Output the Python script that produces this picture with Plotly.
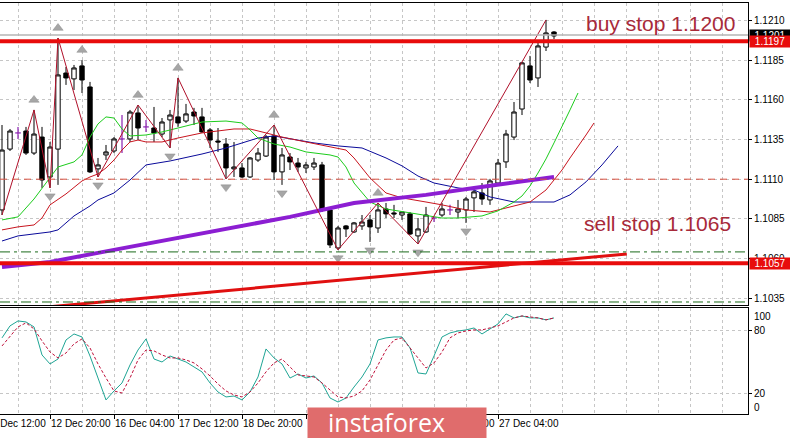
import plotly.graph_objects as go

# ---------------- data (EURUSD H4) ----------------
bars = list(range(70))
opens = [1.10906, 1.1129, 1.11392, 1.11404, 1.11265, 1.11366, 1.11114, 1.1129, 1.1177, 1.11733,
         1.11815, 1.11682, 1.11165, 1.11253, 1.11278, 1.11354, 1.11354, 1.11518, 1.1143, 1.11423,
         1.11385, 1.11474, 1.11493, 1.11467, 1.11524, 1.11493, 1.11411, 1.11341, 1.11322, 1.11165,
         1.11171, 1.11114, 1.11221, 1.11246, 1.11373, 1.11146, 1.1124, 1.11202, 1.11171, 1.11177,
         1.1119, 1.10906, 1.10666, 1.10805, 1.10767, 1.10805, 1.10843, 1.10792, 1.10912, 1.10887,
         1.10874, 1.10881, 1.10742, 1.10767, 1.10855, 1.10874, 1.10906, 1.10893, 1.10906, 1.10982,
         1.11013, 1.10969, 1.11076, 1.11209, 1.11366, 1.11543, 1.11815, 1.11739, 1.11934, 1.12029]
highs = [1.11442, 1.11417, 1.1143, 1.1143, 1.11537, 1.1143, 1.11335, 1.11991, 1.11808, 1.11821,
         1.11852, 1.11714, 1.11234, 1.11316, 1.11366, 1.11505, 1.11537, 1.11568, 1.11474, 1.11556,
         1.11486, 1.11537, 1.11739, 1.11575, 1.1155, 1.1155, 1.11423, 1.11423, 1.1136, 1.11335,
         1.11202, 1.1124, 1.11297, 1.11379, 1.11442, 1.11297, 1.11265, 1.11234, 1.11209, 1.11234,
         1.11209, 1.10919, 1.10805, 1.10811, 1.1083, 1.10874, 1.10874, 1.1095, 1.1095, 1.10938,
         1.10893, 1.10893, 1.10855, 1.10925, 1.10862, 1.1095, 1.10938, 1.10969, 1.10988, 1.11051,
         1.11076, 1.11102, 1.11228, 1.11411, 1.11587, 1.1184, 1.11878, 1.1196, 1.12105, 1.12035]
lows = [1.10874, 1.11278, 1.11354, 1.11253, 1.11253, 1.11045, 1.11045, 1.11064, 1.11695, 1.11663,
        1.11644, 1.11139, 1.11114, 1.11221, 1.11265, 1.11265, 1.11335, 1.11347, 1.11398, 1.11335,
        1.11366, 1.11297, 1.1143, 1.11455, 1.11442, 1.11392, 1.11297, 1.11272, 1.11102, 1.11114,
        1.11108, 1.11108, 1.11209, 1.1124, 1.11095, 1.11064, 1.11158, 1.11146, 1.11139, 1.11158,
        1.10893, 1.10666, 1.10654, 1.10735, 1.10761, 1.1078, 1.10704, 1.10761, 1.10855, 1.10855,
        1.10843, 1.10748, 1.10691, 1.10761, 1.1083, 1.10862, 1.10874, 1.10855, 1.10824, 1.10893,
        1.10938, 1.10938, 1.11064, 1.11171, 1.11347, 1.11505, 1.11707, 1.11682, 1.11909, 1.11985]
closes = [1.11284, 1.11404, 1.11392, 1.11265, 1.11385, 1.11095, 1.11303, 1.11758, 1.11739, 1.11802,
          1.11726, 1.11146, 1.1119, 1.11272, 1.11354, 1.11354, 1.11524, 1.11423, 1.1143, 1.11392,
          1.11461, 1.11505, 1.11455, 1.11512, 1.11499, 1.11398, 1.11347, 1.11335, 1.11171, 1.11177,
          1.11114, 1.11234, 1.11265, 1.11366, 1.11146, 1.11253, 1.11209, 1.11177, 1.1119, 1.11202,
          1.10906, 1.10685, 1.10792, 1.10786, 1.10824, 1.1083, 1.10799, 1.10906, 1.10881, 1.10881,
          1.10893, 1.10754, 1.10786, 1.10874, 1.10855, 1.10912, 1.10906, 1.10912, 1.10975, 1.1102,
          1.10975, 1.11089, 1.11202, 1.11385, 1.11524, 1.11834, 1.11726, 1.11941, 1.12023, 1.12004]

# Alligator lines (bar index, price)
lips_k = [0, 2, 4, 6, 7, 9, 10, 11, 12, 13, 14, 15, 16, 18, 20, 22, 25, 28, 30, 31, 32, 34, 36, 38,
          41, 42, 43, 44, 46, 48, 51, 55, 57, 60, 62, 64, 65, 66, 67, 68, 69, 70, 71, 72]
lips_p = [1.10843, 1.10862, 1.10975, 1.11114, 1.11177, 1.11209, 1.11253, 1.11366, 1.11449, 1.11493,
          1.11486, 1.11417, 1.11373, 1.11379, 1.11398, 1.11423, 1.11461, 1.11467, 1.11455, 1.11411,
          1.1136, 1.11322, 1.11303, 1.11272, 1.11253, 1.1124, 1.11177, 1.11076, 1.10956, 1.10912,
          1.10887, 1.10855, 1.10855, 1.10868, 1.109, 1.10956, 1.10994, 1.11057, 1.11139, 1.11228,
          1.11329, 1.1143, 1.11537, 1.11644]
teeth_k = [0, 2, 4, 5, 6, 8, 10, 11, 12, 13, 14, 15, 16, 17, 18, 20, 22, 25, 29, 31, 33, 35, 38, 40,
           43, 44, 45, 46, 48, 50, 53, 55, 58, 61, 64, 66, 68, 69, 70, 71, 72, 73, 74]
teeth_p = [1.1078, 1.10799, 1.10811, 1.10855, 1.10938, 1.11007, 1.11089, 1.11114, 1.11133, 1.11171,
           1.11221, 1.11284, 1.11335, 1.11347, 1.11335, 1.11335, 1.1136, 1.11392, 1.11417, 1.11417,
           1.11392, 1.11366, 1.11335, 1.11316, 1.11284, 1.11234, 1.11171, 1.11108, 1.11013, 1.10982,
           1.10956, 1.10938, 1.10906, 1.10893, 1.10931, 1.10956, 1.11032, 1.11095, 1.11158, 1.11234,
           1.11303, 1.11379, 1.11455]
jaw_k = [0, 2, 6, 7, 9, 11, 12, 14, 16, 18, 21, 25, 28, 30, 32, 34, 36, 39, 42, 45, 48, 50, 52, 54,
         57, 59, 61, 64, 66, 69, 71, 73, 75, 77]
jaw_p = [1.1071, 1.10742, 1.10767, 1.1078, 1.10868, 1.10931, 1.10969, 1.11013, 1.11095, 1.1119,
         1.11215, 1.11259, 1.11297, 1.11329, 1.1136, 1.11373, 1.11354, 1.11329, 1.1131, 1.11297,
         1.11234, 1.11184, 1.1112, 1.11076, 1.11045, 1.11032, 1.10988, 1.10956, 1.10956, 1.10956,
         1.11001, 1.11083, 1.1119, 1.1131]
# long moving average (purple)
ma_k = [0, 6, 12, 20, 29, 36, 44, 53, 59, 69]
ma_p = [1.10546, 1.10578, 1.10635, 1.1071, 1.10799, 1.10862, 1.1095, 1.11001, 1.11045, 1.11114]

# ZigZag pivots: bar index and type (H = high, L = low)
zz_idx = [0, 4, 6, 7, 12, 17, 21, 22, 28, 34, 42, 47, 52, 68]
zz_type = ["L", "H", "L", "H", "L", "H", "L", "H", "L", "H", "L", "H", "L", "H"]

# Fractals
frac_up = [4, 7, 10, 17, 22, 34, 47]
frac_dn = [6, 12, 21, 28, 35, 42, 46, 52, 58]

# Levels
current_price = 1.1201
buy_level = 1.1197
sell_level = 1.1057
mid_level = 1.1110
green_levels = [1.10641, 1.10325]
trend_k = [5.75, 78.1]
trend_p = [1.10294, 1.10628]

price_ticks = [1.1035, 1.1060, 1.1085, 1.1110, 1.1135, 1.1160, 1.1185, 1.1210]

# Stochastic
stoch_main = [73.3, 84.9, 89.7, 88.7, 83.9, 56.8, 48.1, 52.9, 71.3, 77.1,
              74.2, 55.8, 34.5, 13.3, 22.0, 29.7, 47.1, 61.6, 72.3, 52.9,
              50.0, 55.8, 52.9, 50.0, 45.2, 40.4, 29.7, 21.0, 16.2, 17.1,
              13.3, 21.0, 35.5, 62.6, 53.9, 48.1, 34.5, 38.4, 34.5, 36.5,
              29.7, 15.2, 11.3, 15.2, 25.8, 35.5, 48.1, 71.3, 73.3, 74.2,
              74.2, 63.6, 39.4, 38.4, 55.8, 74.2, 78.1, 80.0, 81.0, 82.9,
              77.1, 82.0, 86.8, 96.5, 92.6, 94.5, 92.6, 92.6, 90.7, 92.6]
stoch_signal = [65.5, 74.2, 83.9, 87.8, 82.0, 70.4, 59.7, 53.9, 58.7, 67.5,
                72.3, 63.6, 48.1, 34.5, 22.0, 20.0, 34.5, 52.0, 61.6, 60.7,
                56.8, 53.9, 53.9, 52.0, 49.1, 43.3, 36.5, 28.7, 22.0, 18.1,
                16.2, 21.0, 29.7, 40.4, 49.1, 52.9, 45.2, 37.5, 36.5, 35.5,
                29.7, 22.9, 16.2, 15.2, 17.1, 22.0, 32.6, 47.1, 61.6, 71.3,
                73.3, 63.6, 53.9, 44.2, 49.1, 59.7, 73.3, 78.1, 80.0, 81.0,
                81.0, 82.9, 84.9, 88.7, 92.6, 94.5, 93.6, 92.6, 90.7, 92.6]

# time labels (those hidden under the watermark in the reference are not drawn)
time_k = [-2, 6, 14, 22, 30, 54, 62]
time_labels = ["11 Dec 12:00", "12 Dec 20:00", "16 Dec 04:00", "17 Dec 12:00", "18 Dec 20:00",
               "24 Dec 20:00", "27 Dec 04:00"]
tick_k = [-2, 6, 14, 22, 30, 38, 46, 54, 62]

# ---------------- figure ----------------
W, H = 790, 438
PLOT_W = 748
XMIN, XMAX = -0.25, 93.25
FONT = "Liberation Sans"
GRID = "#c6c6c6"


def px_x(px):
    return px / PLOT_W


def px_y(py):
    return 1 - py / H


def k_to_paper(k):
    return (k - XMIN) / (XMAX - XMIN)


fig = go.Figure()

normal = [i for i in bars if opens[i] != closes[i]]
doji = [i for i in bars if opens[i] == closes[i]]

fig.add_trace(go.Candlestick(
    x=normal, open=[opens[i] for i in normal], high=[highs[i] for i in normal],
    low=[lows[i] for i in normal], close=[closes[i] for i in normal],
    increasing=dict(line=dict(color="black", width=1), fillcolor="white"),
    decreasing=dict(line=dict(color="black", width=1), fillcolor="black"),
    whiskerwidth=0, hoverinfo="skip", showlegend=False, xaxis="x", yaxis="y"))

# doji crosses (purple)
dx, dy = [], []
for i in doji:
    dx += [i, i, None, i - 0.35, i + 0.35, None]
    dy += [highs[i], lows[i], None, opens[i], opens[i], None]
fig.add_trace(go.Scatter(x=dx, y=dy, mode="lines", line=dict(color="#8a1fb0", width=1.2),
                         hoverinfo="skip", showlegend=False))

fig.add_trace(go.Scatter(x=jaw_k, y=jaw_p, mode="lines", line=dict(color="#0a0a9a", width=1),
                         hoverinfo="skip", showlegend=False))
fig.add_trace(go.Scatter(x=teeth_k, y=teeth_p, mode="lines", line=dict(color="#c8141e", width=1),
                         hoverinfo="skip", showlegend=False))
fig.add_trace(go.Scatter(x=lips_k, y=lips_p, mode="lines", line=dict(color="#1ccc1c", width=1),
                         hoverinfo="skip", showlegend=False))
fig.add_trace(go.Scatter(x=ma_k, y=ma_p, mode="lines", line=dict(color="#8c1ed2", width=4),
                         hoverinfo="skip", showlegend=False))

zz_p = [highs[i] if t == "H" else lows[i] for i, t in zip(zz_idx, zz_type)]
fig.add_trace(go.Scatter(x=zz_idx, y=zz_p, mode="lines", line=dict(color="#b0102a", width=1),
                         hoverinfo="skip", showlegend=False))

fig.add_trace(go.Scatter(x=trend_k, y=trend_p, mode="lines", line=dict(color="#e01010", width=3),
                         hoverinfo="skip", showlegend=False))

UP_PAD, DN_PAD = 0.00063, 0.00052
fig.add_trace(go.Scatter(x=frac_up, y=[highs[i] + UP_PAD for i in frac_up], mode="markers",
                         marker=dict(symbol="triangle-up", size=9, color="#a6a6a6",
                                     line=dict(color="#8c8c8c", width=0.5)),
                         hoverinfo="skip", showlegend=False))
fig.add_trace(go.Scatter(x=frac_dn, y=[lows[i] - DN_PAD for i in frac_dn], mode="markers",
                         marker=dict(symbol="triangle-down", size=9, color="#a6a6a6",
                                     line=dict(color="#8c8c8c", width=0.5)),
                         hoverinfo="skip", showlegend=False))

# stochastic
fig.add_trace(go.Scatter(x=bars, y=stoch_main, mode="lines", line=dict(color="#1fa595", width=1),
                         xaxis="x2", yaxis="y2", hoverinfo="skip", showlegend=False))
fig.add_trace(go.Scatter(x=bars, y=stoch_signal, mode="lines",
                         line=dict(color="#c0103a", width=1, dash="3px,2px"),
                         xaxis="x2", yaxis="y2", hoverinfo="skip", showlegend=False))

# horizontal levels
shapes = []
shapes.append(dict(type="line", xref="paper", yref="y", x0=0, x1=1, y0=current_price, y1=current_price,
                   line=dict(color="#b4b4b4", width=1.5), layer="above"))
shapes.append(dict(type="line", xref="paper", yref="y", x0=0, x1=1, y0=mid_level, y1=mid_level,
                   line=dict(color="#d85040", width=1, dash="7px,5px"), layer="above"))
for g in green_levels:
    shapes.append(dict(type="line", xref="paper", yref="y", x0=0, x1=1, y0=g, y1=g,
                       line=dict(color="#1a6a1a", width=1, dash="10px,4px,3px,4px"), layer="above"))
for lv in (buy_level, sell_level):
    shapes.append(dict(type="line", xref="paper", yref="y", x0=0, x1=1, y0=lv, y1=lv,
                       line=dict(color="#e80c0c", width=4), layer="above"))

annotations = []
# time labels (left aligned at their tick, as in MT4)
for k, t in zip(time_k, time_labels):
    annotations.append(dict(x=k_to_paper(k), xref="paper", y=px_y(423), yref="paper", text=t,
                            showarrow=False, xanchor="left", yanchor="middle", xshift=-1,
                            font=dict(family=FONT, size=10, color="black")))
# stochastic end labels
annotations.append(dict(x=px_x(752), xref="paper", y=100, yref="y2", yshift=-6, text="100",
                        showarrow=False, xanchor="left", yanchor="middle",
                        font=dict(family=FONT, size=10, color="black")))
annotations.append(dict(x=px_x(752), xref="paper", y=0, yref="y2", yshift=6, text="0",
                        showarrow=False, xanchor="left", yanchor="middle",
                        font=dict(family=FONT, size=10, color="black")))
# price boxes
for val, bg in ((current_price, "black"), (buy_level, "#e80c0c"), (sell_level, "#e80c0c")):
    annotations.append(dict(x=px_x(749), xref="paper", y=val, yref="y", text=f"{val:.4f}",
                            showarrow=False, xanchor="left", yanchor="middle", bgcolor=bg,
                            width=40, height=11, borderpad=0, align="center",
                            font=dict(family=FONT, size=10, color="white")))
# order texts
annotations.append(dict(x=px_x(584), xref="paper", y=px_y(23), yref="paper", text="buy stop 1.1200",
                        showarrow=False, xanchor="left", yanchor="middle",
                        font=dict(family=FONT, size=21, color="#a82a3a")))
annotations.append(dict(x=px_x(582), xref="paper", y=px_y(223), yref="paper", text="sell stop 1.1065",
                        showarrow=False, xanchor="left", yanchor="middle",
                        font=dict(family=FONT, size=21, color="#a82a3a")))
# watermark
annotations.append(dict(x=px_x(307), xref="paper", y=px_y(407), yref="paper", text=" ",
                        showarrow=False, xanchor="left", yanchor="top", bgcolor="#e06c6c",
                        width=178, height=32, borderpad=0))
annotations.append(dict(x=px_x(326), xref="paper", y=px_y(422), yref="paper", text="instaforex",
                        showarrow=False, xanchor="left", yanchor="middle",
                        font=dict(family="Open Sans", size=25, color="white")))

fig.update_layout(
    width=W, height=H, margin=dict(l=0, r=W - PLOT_W, t=0, b=0),
    paper_bgcolor="white", plot_bgcolor="white", showlegend=False, boxgap=0.22,
    shapes=shapes, annotations=annotations,
    xaxis=dict(domain=[0, 1], range=[XMIN, XMAX], anchor="y", tickmode="linear", tick0=2, dtick=4,
               showticklabels=False, ticks="", showgrid=True, gridcolor=GRID, griddash="3px,3px",
               zeroline=False, showline=True, mirror=True, linecolor="black", linewidth=1,
               rangeslider=dict(visible=False), automargin=False),
    yaxis=dict(domain=[px_y(305), px_y(3)], range=[1.10306, 1.12212], side="right", anchor="x",
               tickmode="array", tickvals=price_ticks, ticktext=[f"{v:.4f}" for v in price_ticks],
               ticks="outside", ticklen=3, tickcolor="black", showgrid=True, gridcolor=GRID,
               griddash="3px,3px", zeroline=False, showline=True, linecolor="black",
               tickfont=dict(family=FONT, size=10, color="black"), automargin=False),
    xaxis2=dict(domain=[0, 1], anchor="y2", matches="x", tickmode="array", tickvals=tick_k,
                ticks="outside", ticklen=4, tickcolor="black", showticklabels=False,
                showgrid=True, gridcolor=GRID, griddash="3px,3px",
                minor=dict(tick0=2, dtick=4, showgrid=True, gridcolor=GRID, griddash="3px,3px", ticks=""),
                zeroline=False, showline=True, mirror=True, linecolor="black", automargin=False),
    yaxis2=dict(domain=[px_y(414), px_y(308)], range=[-0.29, 102.2], side="right", anchor="x2",
                tickmode="array", tickvals=[20, 80], ticktext=["20", "80"], ticks="outside",
                ticklen=3, tickcolor="black", showgrid=True, gridcolor=GRID, griddash="3px,3px",
                zeroline=False, showline=True, linecolor="black",
                tickfont=dict(family=FONT, size=10, color="black"), automargin=False),
)

fig.write_html("out.html")
